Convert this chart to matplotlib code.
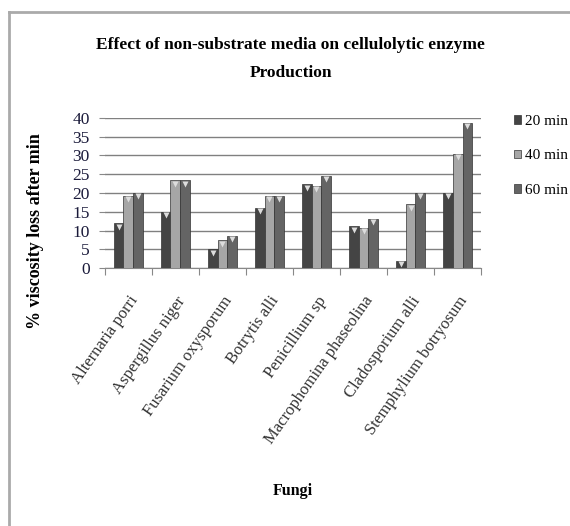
import numpy as np
import matplotlib.pyplot as plt
from matplotlib.lines import Line2D

# Daten
fungi = ["Alternaria porri", "Aspergillus niger", "Fusarium oxysporum",
         "Botrytis alli", "Penicillium sp", "Macrophomina phaseolina",
         "Cladosporium alli", "Stemphylium botryosum"]
min20 = [12, 15, 5, 16, 22.3, 11.2, 2, 20]
min40 = [19.2, 23.4, 7.4, 19.2, 22, 10.8, 17, 30.5]
min60 = [20, 23.4, 8.7, 19.2, 24.6, 13.2, 20.1, 38.6]
labels = ["20 min", "40 min", "60 min"]
farben = ["#444444", "#a6a6a6", "#646464"]

plt.rcParams["font.family"] = ["Liberation Serif", "DejaVu Serif"]

fig = plt.figure(figsize=(5.7, 5.26), dpi=100)
ax = fig.add_axes([0.184, 0.49, 0.66, 0.286])

x = np.arange(len(fungi)) + 0.5
w = 0.21
for i, (serie, farbe, lab) in enumerate(zip([min20, min40, min60], farben, labels)):
    pos = x + (i - 1) * w
    ax.bar(pos, serie, width=w, color=farbe, edgecolor="#333333",
           linewidth=0.5, label=lab, zorder=3)
    # kleine helle Dreiecke oben (3D-Effekt)
    ax.plot(pos, np.array(serie) - 0.9, "v", color="#dddddd", ms=4,
            mec="none", zorder=4)

ax.set_xlim(0, len(fungi))
ax.set_ylim(0, 40)
ax.set_yticks(range(0, 41, 5))
ax.tick_params(axis="y", labelsize=12.5, length=4, color="#888888",
               labelcolor="#1a1a3a", pad=7)
ax.yaxis.grid(True, color="#808080", linewidth=1, zorder=0)

ax.set_xticks(np.arange(len(fungi) + 1))
ax.set_xticklabels([])
ax.set_xticks(x, minor=True)
ax.set_xticklabels(fungi, minor=True, rotation=55, ha="right",
                   rotation_mode="anchor", fontsize=12, color="#333333")
ax.tick_params(axis="x", which="major", length=5, color="#888888")
ax.tick_params(axis="x", which="minor", length=0, pad=18)

for s in ["top", "right", "left"]:
    ax.spines[s].set_visible(False)
ax.spines["bottom"].set_color("#888888")

fig.text(0.51, 0.888, "Effect of non-substrate media on cellulolytic enzyme\nProduction",
         ha="center", va="center", fontsize=12.5, fontweight="bold",
         linespacing=2.0)
fig.text(0.063, 0.56, "% viscosity loss after min", rotation=90,
         ha="center", va="center", fontsize=13, fontweight="bold")
fig.text(0.513, 0.066, "Fungi", ha="center", va="center",
         fontsize=11.5, fontweight="bold")

ax.legend(loc="upper left", bbox_to_anchor=(1.07, 1.06), frameon=False,
          fontsize=11, handlelength=0.5, handleheight=0.5,
          handletextpad=0.25, labelspacing=1.4, borderaxespad=0)

# Rahmen
fig.add_artist(Line2D([8.5 / 570, 8.5 / 570], [0, 1 - 11.5 / 526],
                      transform=fig.transFigure, color="#aaaaaa", lw=2))
fig.add_artist(Line2D([8.5 / 570, 1], [1 - 11.5 / 526, 1 - 11.5 / 526],
                      transform=fig.transFigure, color="#aaaaaa", lw=2))

fig.savefig("out.png", dpi=100)
